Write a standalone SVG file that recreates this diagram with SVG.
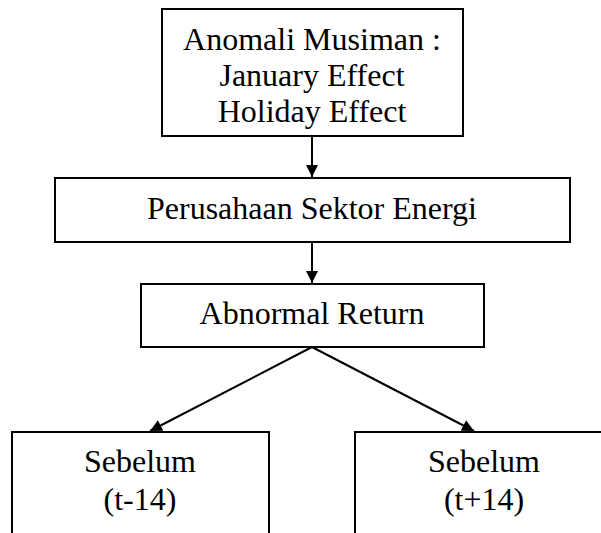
<svg xmlns="http://www.w3.org/2000/svg" width="601" height="533" viewBox="0 0 601 533">
<style>
.box{fill:#fff;stroke:#000;stroke-width:2}
.t{font-family:"Liberation Serif","Times New Roman",serif;font-size:32px;fill:#000;text-anchor:middle}
.c{stroke:#000;stroke-width:2;fill:none}
</style>
<defs>
<marker id="ah" viewBox="0 0 10 10" refX="10" refY="5" markerWidth="6" markerHeight="6" markerUnits="strokeWidth" orient="auto">
<path d="M0,0 L10,5 L0,10 z" fill="#000"/>
</marker>
</defs>
<rect width="601" height="533" fill="#fff"/>
<g id="n1"><rect class="box" x="162" y="9" width="301" height="127"/>
<text class="t" x="312" y="50">Anomali Musiman :</text>
<text class="t" x="312" y="86">January Effect</text>
<text class="t" x="312" y="122">Holiday Effect</text></g>
<g id="n2"><rect class="box" x="55" y="178" width="515" height="64"/>
<text class="t" x="312" y="219">Perusahaan Sektor Energi</text></g>
<g id="n3"><rect class="box" x="141" y="284" width="343" height="63"/>
<text class="t" x="312" y="324">Abnormal Return</text></g>
<g id="n4"><rect class="box" x="12" y="432" width="257" height="120"/>
<text class="t" x="140" y="472">Sebelum</text>
<text class="t" x="140" y="510">(t-14)</text></g>
<g id="n5"><rect class="box" x="355" y="432" width="260" height="120"/>
<text class="t" x="484" y="472">Sebelum</text>
<text class="t" x="484" y="510">(t+14)</text></g>
<g id="connectors">
<line class="c" x1="312" y1="136" x2="312" y2="177" marker-end="url(#ah)"/>
<line class="c" x1="312" y1="242" x2="312" y2="283" marker-end="url(#ah)"/>
<line class="c" x1="312" y1="347" x2="150" y2="431" marker-end="url(#ah)"/>
<line class="c" x1="312" y1="347" x2="474" y2="431" marker-end="url(#ah)"/>
</g>
</svg>
